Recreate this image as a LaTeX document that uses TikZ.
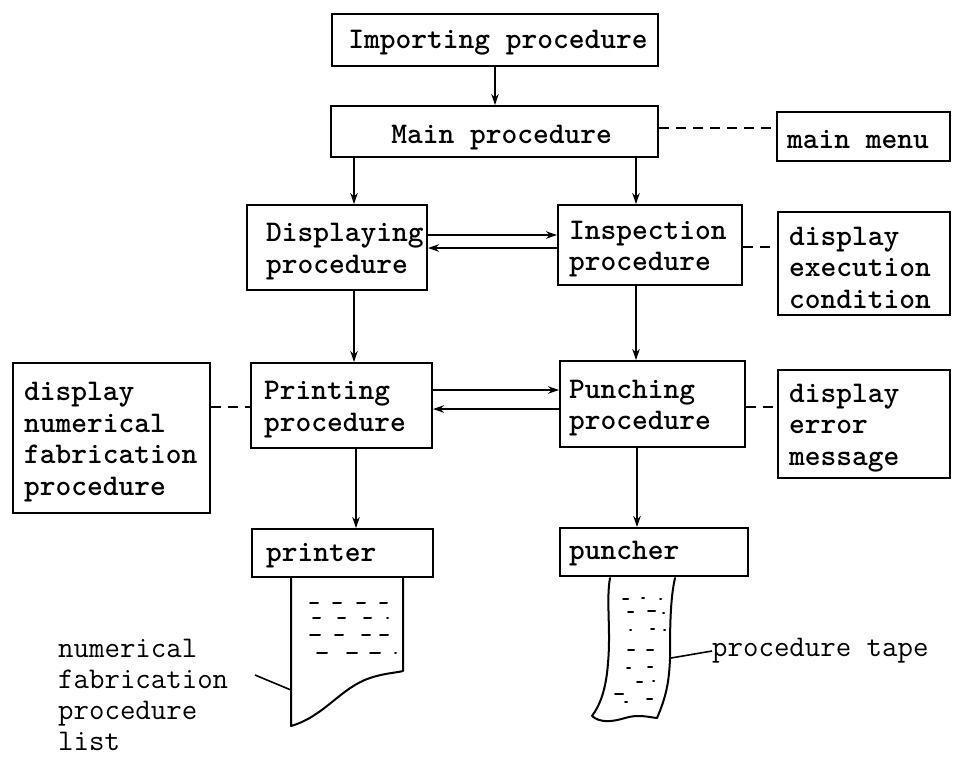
\documentclass[tikz,border=0pt]{standalone}
\usepackage{fontspec}
\usetikzlibrary{arrows.meta,calc}
\begin{document}
\begin{tikzpicture}[x=1pt,y=-1pt,
  box/.style={draw,line width=2pt,inner sep=0pt},
  txt/.style={font=\ttfamily\bfseries\fontsize{30}{31.5}\selectfont,inner sep=0pt,align=left},
  txtl/.style={font=\ttfamily\fontsize{30}{31}\selectfont,inner sep=0pt,align=left},
  arr/.style={line width=1.5pt,-{Stealth[length=11pt,width=7.5pt]}},
  dsh/.style={line width=1.6pt,dash pattern=on 10pt off 7pt},
  outline/.style={line width=2pt,line join=round,line cap=round},
  mk/.style={line width=2pt,line cap=round},
  lead/.style={line width=1.6pt}]
\useasboundingbox (0,0) rectangle (955,756);
% boxes
\node[box,minimum width=326pt,minimum height=52pt] (imp) at (495,40) {};
\node[box,minimum width=327pt,minimum height=51pt] (main) at (494.5,131.5) {};
\node[box,minimum width=173pt,minimum height=49pt] (mainmenu) at (863.5,136.5) {};
\node[box,minimum width=180pt,minimum height=85pt] (disp) at (337,247.5) {};
\node[box,minimum width=184pt,minimum height=80pt] (insp) at (650,245) {};
\node[box,minimum width=172pt,minimum height=103pt] (dexe) at (864,263.5) {};
\node[box,minimum width=197pt,minimum height=150pt] (dnum) at (111.5,438) {};
\node[box,minimum width=181pt,minimum height=85pt] (print) at (341.5,405.5) {};
\node[box,minimum width=185pt,minimum height=86pt] (punch) at (652.5,404) {};
\node[box,minimum width=172pt,minimum height=108pt] (derr) at (864,424) {};
\node[box,minimum width=181pt,minimum height=48pt] (printer) at (342.5,553) {};
\node[box,minimum width=188pt,minimum height=48pt] (puncher) at (654,552) {};
% box texts
\node[txt] (imptext) at ($(imp.center)+(3,3)$) {Importing procedure};
\node[txt] (maintext) at ($(main.center)+(7,6)$) {Main procedure};
\node[txt,anchor=west] (mainmenutext) at ($(mainmenu.west)+(11,3)$) {main menu};
\node[txt,anchor=west] (disptext) at ($(disp.west)+(20,4)$) {Displaying\\procedure};
\node[txt,anchor=west] (insptext) at ($(insp.west)+(12,4)$) {Inspection\\procedure};
\node[txt,anchor=west] (dexetext) at ($(dexe.west)+(12,4)$) {display\\execution\\condition};
\node[txt,anchor=west] (dnumtext) at ($(dnum.west)+(12,4)$) {display\\numerical\\fabrication\\procedure};
\node[txt,anchor=west] (printtext) at ($(print.west)+(14,4)$) {Printing\\procedure};
\node[txt,anchor=west] (punchtext) at ($(punch.west)+(10,4)$) {Punching\\procedure};
\node[txt,anchor=west] (derrtext) at ($(derr.west)+(12,4)$) {display\\error\\message};
\node[txt,anchor=west] (printertext) at ($(printer.west)+(15,3)$) {printer};
\node[txt,anchor=west] (punchertext) at ($(puncher.west)+(10,2)$) {puncher};
% arrows
\draw[arr] (imp.south) -- (imp.south |- main.north);
\coordinate (c1) at ($(main.south west)+(24,0)$);
\draw[arr] (c1) -- (c1 |- disp.north);
\coordinate (c2) at ($(insp.north west)+(79,0)$);
\draw[arr] (main.south -| c2) -- (c2);
\coordinate (d1) at ($(disp.east)+(0,-12.5)$);
\draw[arr] (d1) -- (d1 -| insp.west);
\coordinate (d2) at ($(disp.east)+(0,0.5)$);
\draw[arr] (d2 -| insp.west) -- (d2);
\coordinate (c3) at ($(disp.south west)+(108,0)$);
\draw[arr] (c3) -- (c3 |- print.north);
\coordinate (c4) at ($(insp.south west)+(79,0)$);
\draw[arr] (c4) -- (c4 |- punch.north);
\coordinate (p1) at ($(print.east)+(0,-15.5)$);
\draw[arr] (p1) -- (p1 -| punch.west);
\coordinate (p2) at ($(print.east)+(0,3.5)$);
\draw[arr] (p2 -| punch.west) -- (p2);
\coordinate (c5) at ($(print.south west)+(106,0)$);
\draw[arr] (c5) -- (c5 |- printer.north);
\coordinate (c6) at ($(punch.south west)+(78,0)$);
\draw[arr] (c6) -- (c6 |- puncher.north);
% dashed links
\coordinate (m1) at ($(main.east)+(0,-3.5)$);
\draw[dsh] (m1) -- (m1 -| mainmenu.west);
\coordinate (i1) at ($(insp.east)+(0,2)$);
\draw[dsh] (i1) -- (i1 -| dexe.west);
\coordinate (n1) at ($(print.west)+(0,1.5)$);
\draw[dsh] (n1 -| dnum.east) -- (n1);
\coordinate (e1) at ($(punch.east)+(0,3)$);
\draw[dsh] (e1) -- (e1 -| derr.west);
% printed list
\draw[outline] (291,578) -- (291,726) .. controls (325,716) and (340,688) .. (370,678) .. controls (385,673) and (395,673) .. (403,671) -- (403,578);
\foreach \a/\b/\y in {310/318/603,333/341/603,357/365/603,380/387/603,
  313/320/618,338/345/618,364/371/618,387/388/618,
  310/320/635,335/343/635,362/370/635,380/388/635,
  317/327/653,347/357/653,370/380/653,395/396/653}
  \draw[mk] (\a,\y) -- (\b,\y);
\node[txtl,anchor=north west] (listlabel) at (58,639) {numerical\\fabrication\\procedure\\list};
\coordinate (l1) at (255,675);
\draw[lead] (l1) -- (291,690);
% tape
\draw[outline] (610,578) .. controls (606,600) and (611,630) .. (608,663) .. controls (606,690) and (600,705) .. (592,716)
  .. controls (600,723) and (612,722) .. (625,718) .. controls (638,714) and (648,717) .. (657,718)
  .. controls (667,695) and (669,680) .. (670,659) .. controls (670,630) and (670,600) .. (675,578);
\foreach \a/\b/\y in {623/628/599,642/644/598,660/661/599,
  628/633/612,648/655/611,663/664/613,
  630/631/630,651/654/629,664/665/630,
  628/634/650,647/653/650,
  627/630/668,648/652/667,
  637/642/682,653/654/681,
  615/623/694,625/627/702,647/652/699}
  \draw[mk] (\a,\y) -- (\b,\y);
\node[txtl,anchor=west] (tapelabel) at (712,651) {procedure tape};
\coordinate (t1) at (671,658);
\draw[lead] (t1) -- (tapelabel.west);
\end{tikzpicture}
\end{document}
